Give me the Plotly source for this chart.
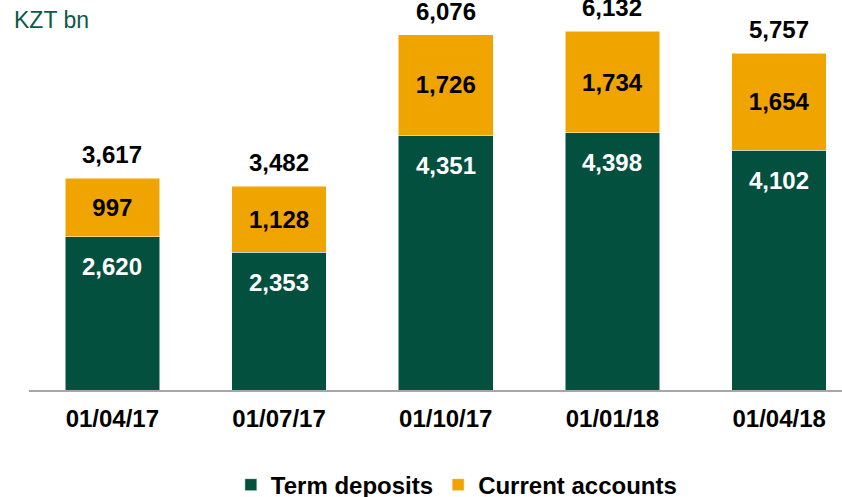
import plotly.graph_objects as go

dates = ["01/04/17", "01/07/17", "01/10/17", "01/01/18", "01/04/18"]
term_deposits = [2620, 2353, 4351, 4398, 4102]
current_accounts = [997, 1128, 1726, 1734, 1654]
totals = [3617, 3482, 6076, 6132, 5757]

GREEN = "#04503F"
ORANGE = "#F0A400"
FONT = "Liberation Sans, Arial, sans-serif"
FS = 24

def fmt(v):
    return f"{v:,}"

fig = go.Figure()
fig.add_trace(go.Bar(
    x=dates, y=term_deposits, name="Term deposits",
    marker=dict(color=GREEN, line=dict(color="white", width=0.5)),
    hoverinfo="skip",
))
fig.add_trace(go.Bar(
    x=dates, y=current_accounts, name="Current accounts",
    marker=dict(color=ORANGE, line=dict(color="white", width=0.5)),
    text=[fmt(v) for v in current_accounts],
    textposition="inside", insidetextanchor="middle",
    textfont=dict(family=FONT, size=FS, color="black", weight="bold"),
    hoverinfo="skip",
))

annotations = []
for d, t, c, tot in zip(dates, term_deposits, current_accounts, totals):
    annotations.append(dict(
        x=d, y=t, xref="x", yref="y", text=f"<b>{fmt(t)}</b>",
        showarrow=False, yanchor="middle", yshift=-30,
        font=dict(family=FONT, size=FS, color="white"),
    ))
    annotations.append(dict(
        x=d, y=t + c, xref="x", yref="y", text=f"<b>{fmt(tot)}</b>",
        showarrow=False, yanchor="bottom", yshift=8,
        font=dict(family=FONT, size=FS, color="black"),
    ))
annotations.append(dict(
    x=-0.0209, y=1, xref="paper", yref="paper", text="KZT bn",
    showarrow=False, xanchor="left", yanchor="middle",
    font=dict(family=FONT, size=FS - 1, color="#0B5A48"),
))

fig.update_layout(
    width=842, height=497,
    barmode="stack", bargap=0.433,
    margin=dict(l=29, r=0, t=20, b=107),
    paper_bgcolor="white", plot_bgcolor="white",
    font=dict(family=FONT, size=FS, color="black"),
    showlegend=True,
    legend=dict(
        orientation="h", xref="container", yref="container",
        x=0.542, xanchor="center", y=0.024, yanchor="middle",
        font=dict(family=FONT, size=FS, color="black", weight="bold"),
        traceorder="normal",
    ),
    annotations=annotations,
    uniformtext=dict(mode=False),
)
fig.update_xaxes(
    range=[-0.5, 4.377], showgrid=False, showline=True,
    linecolor="#A6A6A6", linewidth=1.5, ticks="",
    tickfont=dict(family=FONT, size=FS, color="black", weight="bold"),
    ticklabelstandoff=6,
)
fig.update_yaxes(range=[0, 6325], visible=False, showgrid=False)

fig.write_html(
    "out.html",
    config={"displayModeBar": False},
    post_script="document.body.style.margin='0';document.body.style.overflow='hidden';",
)
